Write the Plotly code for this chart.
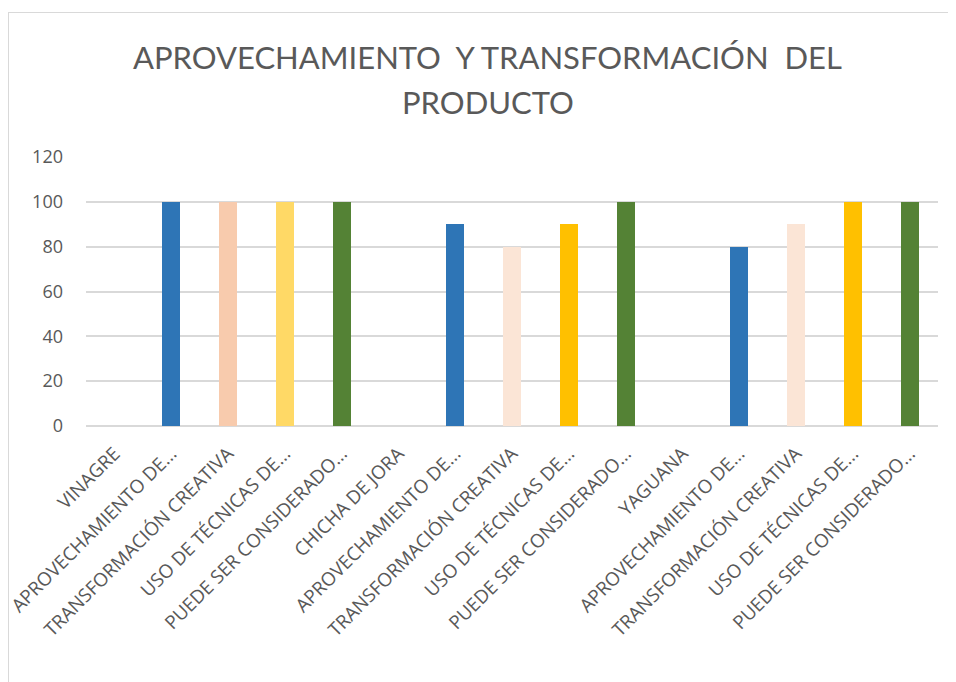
import plotly.graph_objects as go

categories = [
    "VINAGRE", "APROVECHAMIENTO DE...", "TRANSFORMACIÓN CREATIVA", "USO DE TÉCNICAS DE...", "PUEDE SER CONSIDERADO...",
    "CHICHA DE JORA", "APROVECHAMIENTO DE...", "TRANSFORMACIÓN CREATIVA", "USO DE TÉCNICAS DE...", "PUEDE SER CONSIDERADO...",
    "YAGUANA", "APROVECHAMIENTO DE...", "TRANSFORMACIÓN CREATIVA", "USO DE TÉCNICAS DE...", "PUEDE SER CONSIDERADO...",
]
values = [0, 100, 100, 100, 100,
          0, 90, 80, 90, 100,
          0, 80, 90, 100, 100]
colors = ["#2E75B6", "#2E75B6", "#F8CBAD", "#FFD966", "#548235",
          "#2E75B6", "#2E75B6", "#FBE5D6", "#FFC000", "#548235",
          "#2E75B6", "#2E75B6", "#FBE5D6", "#FFC000", "#548235"]
y_ticks = [0, 20, 40, 60, 80, 100, 120]
title_lines = ["APROVECHAMIENTO  Y TRANSFORMACIÓN  DEL", "PRODUCTO"]

# page body has an 8px margin, so the figure is 8px smaller in each direction
W, H = 948, 674
ml, mr, mt, mb = 78, 18, 149, 256

x = list(range(len(categories)))
fig = go.Figure(go.Bar(x=x, y=values, marker=dict(color=colors, line=dict(width=0)), width=0.32))

fig.update_layout(
    width=W, height=H,
    margin=dict(l=ml, r=mr, t=mt, b=mb),
    paper_bgcolor="white", plot_bgcolor="white",
    showlegend=False,
    bargap=0,
    xaxis=dict(
        tickmode="array", tickvals=x, ticktext=categories,
        tickangle=-45, range=[-0.5, len(categories) - 0.5],
        tickfont=dict(family="Open Sans", size=18.8, color="#595959"),
        showgrid=False, zeroline=False, showline=False, ticks="",
        automargin=False, ticklabelstandoff=12, ticklabeloverflow="allow",
    ),
    yaxis=dict(
        range=[0, 120], tickvals=y_ticks,
        tickfont=dict(family="Open Sans", size=18, color="#595959"),
        showgrid=True, gridcolor="#D9D9D9", gridwidth=1.5,
        zeroline=True, zerolinecolor="#D9D9D9", zerolinewidth=1.5,
        ticks="", ticklabelstandoff=22, automargin=False,
    ),
)

pw = W - ml - mr
ph = H - mt - mb
def px_x(px):
    return (px - ml) / pw
def px_y(py):
    return (H - mb - py) / ph

title_y = [49, 94]
for txt, ty in zip(title_lines, title_y):
    fig.add_annotation(text=txt, xref="paper", yref="paper", x=px_x(479.5), y=px_y(ty),
                       xanchor="center", yanchor="middle", showarrow=False,
                       font=dict(family="Lato", size=31, color="#595959"))

fig.add_shape(type="line", xref="paper", yref="paper",
              x0=px_x(0), x1=px_x(W + 5), y0=px_y(4.5), y1=px_y(4.5),
              line=dict(color="#D9D9D9", width=1))
fig.add_shape(type="line", xref="paper", yref="paper",
              x0=px_x(0.5), x1=px_x(0.5), y0=px_y(4), y1=px_y(H + 5),
              line=dict(color="#D9D9D9", width=1))

fig.write_html("out.html")
